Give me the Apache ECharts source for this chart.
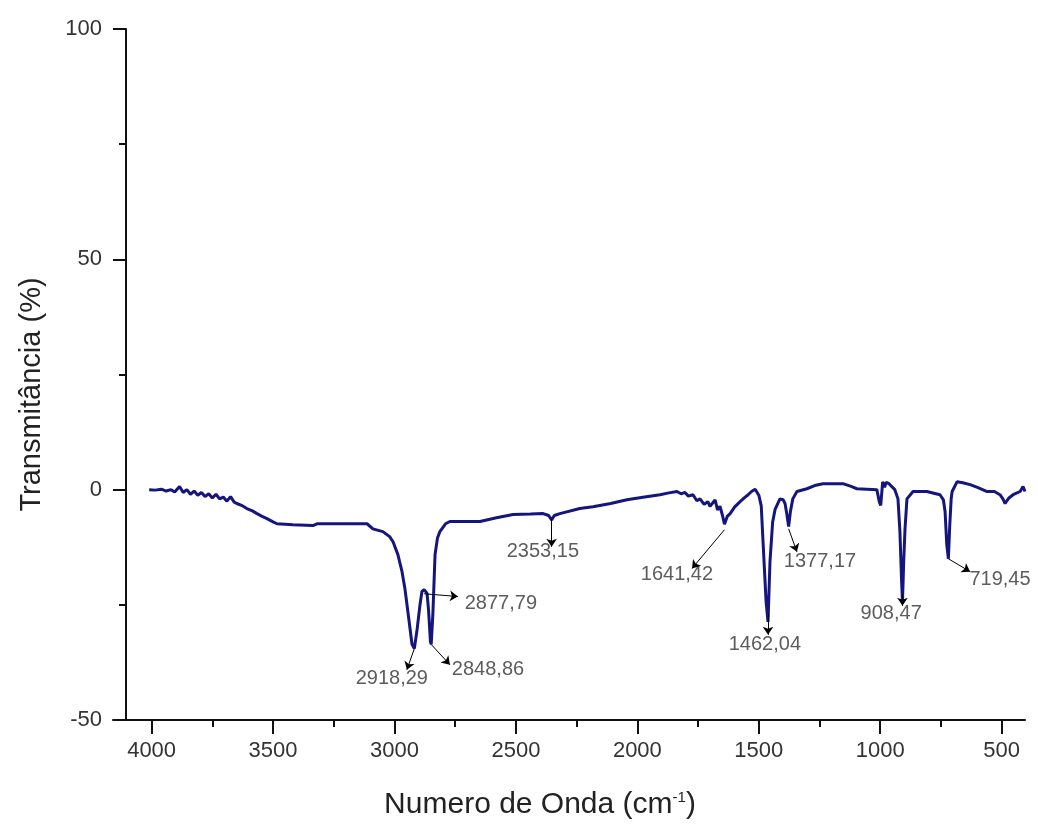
<!DOCTYPE html>
<html>
<head>
<meta charset="utf-8">
<style>
  html, body { margin: 0; padding: 0; background: #fff; }
  #chart { width: 1038px; height: 825px; }
</style>
<script src="https://cdn.jsdelivr.net/npm/echarts@6/dist/echarts.min.js"></script>
</head>
<body>
<div id="chart"></div>
<script>
// espectro FTIR
const waveNumber = [
  4010, 3985, 3960, 3940, 3920, 3905, 3885, 3870, 3855, 3840, 3825, 3810, 3795, 3780, 3765, 3750,
  3735, 3720, 3705, 3690, 3675, 3660, 3649, 3630, 3608, 3585, 3566, 3545, 3525, 3500, 3484, 3450,
  3418, 3336, 3319, 3200, 3113, 3089, 3048, 3020, 3006, 2986, 2969, 2957, 2940, 2928, 2918.29, 2908,
  2895, 2887, 2877.79, 2866, 2860, 2852, 2848.86, 2842, 2833, 2823, 2813, 2790, 2772, 2648, 2580, 2512,
  2440, 2388, 2365, 2353.15, 2342, 2319, 2237, 2183, 2110, 2043, 1970, 1907, 1870, 1837, 1820, 1804,
  1790, 1771, 1755, 1742, 1725, 1710, 1701, 1690, 1680, 1670, 1660, 1650, 1641.42, 1630, 1618, 1600,
  1577, 1560, 1544, 1530, 1515, 1500, 1490, 1482, 1470, 1462.04, 1454, 1443, 1433, 1413, 1400, 1392,
  1385, 1377.17, 1370, 1360, 1343, 1302, 1270, 1236, 1154, 1120, 1096, 1014, 1004, 998, 990, 982,
  976, 964, 940, 927, 919, 912, 908.47, 903, 898, 890, 865, 808, 754, 740, 733, 726,
  719.45, 714, 708, 704, 684, 660, 630, 600, 560, 530, 507, 495, 486, 470, 453, 424,
  412, 404
]
const transmittance = [
  0.0, -0.1, 0.1, -0.3, 0.0, -0.5, 0.7, -0.6, 0.0, -1.0, -0.3, -1.2, -0.6, -1.5, -0.9, -1.8,
  -1.0, -2.0, -1.6, -2.5, -1.5, -2.7, -3.0, -3.4, -4.1, -4.6, -5.2, -5.8, -6.3, -7.0, -7.4, -7.5,
  -7.6, -7.8, -7.4, -7.4, -7.4, -8.5, -9.1, -10.2, -11.3, -14.1, -17.8, -21.5, -28.5, -33.5, -34.5, -30.8,
  -25.0, -22.1, -21.7, -22.5, -26.0, -33.0, -33.6, -27.0, -14.1, -10.5, -9.1, -7.4, -6.9, -6.9, -6.1, -5.4,
  -5.3, -5.2, -5.6, -6.6, -5.6, -5.2, -4.1, -3.7, -3.0, -2.2, -1.6, -1.1, -0.7, -0.4, -0.9, -0.6,
  -1.4, -1.1, -2.4, -2.0, -3.2, -2.6, -3.6, -2.9, -2.2, -4.4, -3.6, -5.5, -7.5, -5.8, -5.2, -3.8,
  -2.6, -1.8, -1.1, -0.4, 0.1, -1.2, -3.5, -11.9, -24.3, -28.7, -15.6, -7.0, -4.3, -2.0, -2.2, -3.0,
  -5.2, -8.0, -4.8, -2.0, -0.4, 0.2, 0.9, 1.3, 1.3, 0.7, 0.2, 0.0, -2.6, -3.4, 1.7, 0.5,
  1.6, 1.3, 0.0, -2.0, -9.1, -20.0, -24.3, -15.0, -8.5, -2.0, -0.4, -0.4, -1.1, -2.2, -4.8, -12.0,
  -15.0, -8.0, -2.0, -0.4, 1.7, 1.5, 1.1, 0.5, -0.4, -0.4, -1.1, -2.0, -3.0, -1.8, -1.1, -0.4,
  0.7, -0.4
]

// picos marcados: texto, ponto no espectro, ponta da seta, centro do texto
const peakNames = ['2918,29', '2848,86', '2877,79', '2353,15', '1641,42', '1462,04', '1377,17', '908,47', '719,45']
const peakFrom = [[2918.29, -34.5], [2848.86, -33.6], [2877.79, -22.6], [2353.15, -6.3], [1641.42, -8.7],
  [1462.04, -26.9], [1377.17, -8.5], [908.47, -22.6], [719.45, -15.0]]
const peakTo = [[2949, -39.1], [2772, -38.0], [2739, -23.2], [2353.15, -12.4], [1775, -17.1],
  [1462.04, -31.5], [1343, -13.5], [908.47, -25.2], [630, -17.8]]
const peakLabelAt = [[3011, -41.0], [2615, -39.1], [2562, -24.7], [2389, -13.5], [1837, -18.5],
  [1475, -33.6], [1248, -15.6], [955, -26.9], [507, -19.5]]

const xMajorTicks = [4000, 3500, 3000, 2500, 2000, 1500, 1000, 500]
const xMinorTicks = [3750, 3250, 2750, 2250, 1750, 1250, 750]

const font = 'Liberation Sans, Arial, sans-serif'
const chart = echarts.init(document.getElementById('chart'))

const spectrum = waveNumber.map((w, i) => [w, transmittance[i]])
const arrows = peakFrom.map((p, i) => [{ coord: p }, { coord: peakTo[i] }])
const labels = peakNames.map((n, i) => ({ name: n, value: peakLabelAt[i] }))

const xBase = {
  type: 'value',
  min: 404,
  max: 4159,
  inverse: true,
  position: 'bottom',
  splitLine: { show: false }
}

chart.setOption({
  animation: false,
  backgroundColor: '#fff',
  grid: { left: 113, right: 13, top: 29, bottom: 105 },
  xAxis: [Object.assign({}, xBase, {
    name: 'Numero de Onda (cm{sup|-1})',
    nameLocation: 'middle',
    nameGap: 70,
    nameTextStyle: {
      fontFamily: font, fontSize: 30, color: '#222', padding: [0, 58, 0, 0],
      rich: { sup: { fontFamily: font, fontSize: 15, color: '#222', verticalAlign: 'top', padding: [0, 0, 12, 0] } }
    },
    axisLine: { show: true, onZero: false, lineStyle: { color: '#111', width: 2 } },
    axisTick: { show: true, inside: false, length: 14, customValues: xMajorTicks, lineStyle: { color: '#111', width: 2 } },
    axisLabel: {
      show: true, customValues: xMajorTicks, margin: 20, fontFamily: font, fontSize: 22, color: '#333',
      formatter: v => String(v)
    }
  }), Object.assign({}, xBase, {
    axisLine: { show: false, onZero: false },
    axisTick: { show: true, inside: false, length: 7, customValues: xMinorTicks, lineStyle: { color: '#111', width: 2 } },
    axisLabel: { show: false }
  })],
  yAxis: {
    type: 'value',
    min: -50,
    max: 100,
    interval: 50,
    offset: -13,
    name: 'Transmitância (%)',
    nameLocation: 'middle',
    nameGap: 80,
    nameTextStyle: { fontFamily: font, fontSize: 29, color: '#222', padding: [0, 40, 0, 0] },
    axisLine: { show: true, onZero: false, lineStyle: { color: '#111', width: 2 } },
    axisTick: { show: true, inside: false, length: 13, lineStyle: { color: '#111', width: 2 } },
    minorTick: { show: true, splitNumber: 2, length: 7, lineStyle: { color: '#111', width: 2 } },
    axisLabel: { margin: 24, fontFamily: font, fontSize: 22, color: '#333' },
    splitLine: { show: false }
  },
  series: [{
    type: 'line',
    data: spectrum,
    showSymbol: false,
    lineStyle: { color: '#15157e', width: 3 },
    markLine: {
      silent: true,
      symbol: ['none', 'arrow'],
      symbolSize: 8,
      label: { show: false },
      lineStyle: { color: '#000', width: 1, type: 'solid' },
      emphasis: { disabled: true },
      data: arrows
    }
  }, {
    type: 'scatter',
    data: labels,
    symbolSize: 1,
    itemStyle: { color: 'rgba(0,0,0,0)' },
    silent: true,
    label: {
      show: true,
      position: 'inside',
      formatter: '{b}',
      fontFamily: font,
      fontSize: 20,
      color: '#333'
    }
  }]
})
</script>
</body>
</html>
